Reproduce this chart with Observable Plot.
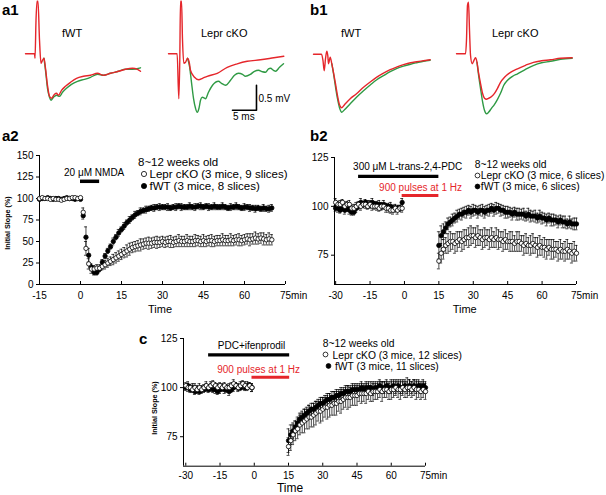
<!DOCTYPE html>
<html><head><meta charset="utf-8">
<script src="https://cdn.jsdelivr.net/npm/d3@7"></script>
<script src="https://cdn.jsdelivr.net/npm/@observablehq/plot@0.6"></script>
<style>
body{margin:0;background:#fff;}
#fig{position:relative;width:606px;height:495px;overflow:hidden;background:#fff;}
</style></head>
<body><div id="fig"></div>
<script>
// ---------------- DATA ----------------
// a1 / b1 field potential traces: [time (ms), voltage (mV)]
const a1FwtRed = [[0,0],[1.88,0],[1.98,-0.09],[2.19,0.67],[2.4,1.05],[2.6,1.05],[2.92,0.27],[3.23,-0.19],[3.54,-0.13],[3.85,-0.09],[4.17,-0.29],[4.58,-0.63],[5.0,-0.85],[5.42,-0.89],[6.04,-0.81],[6.46,-0.79],[6.88,-0.83],[7.5,-0.73],[8.33,-0.65],[9.38,-0.57],[10.63,-0.49],[12.08,-0.45],[13.54,-0.43],[15.0,-0.39],[16.25,-0.43],[17.71,-0.39],[19.38,-0.35],[20.83,-0.31],[22.29,-0.29],[23.33,-0.31],[23.96,-0.35]];
const a1FwtGreen = [[3.85,-0.09],[4.17,-0.33],[4.58,-0.69],[5.0,-0.87],[5.31,-0.93],[5.83,-0.87],[6.46,-0.83],[7.08,-0.85],[7.71,-0.77],[8.54,-0.69],[9.58,-0.61],[10.83,-0.55],[12.29,-0.51],[13.54,-0.47],[15.0,-0.41],[16.25,-0.43],[17.71,-0.39],[19.38,-0.35],[20.83,-0.31],[22.29,-0.31],[23.96,-0.28]];
const a1KoRed = [[0,0],[1.8,0],[2.15,-0.9],[2.35,-0.13],[2.5,1.05],[2.71,1.05],[2.92,0.27],[3.19,-0.19],[3.54,-0.17],[3.96,-0.09],[4.38,-0.2],[4.58,-0.33],[5.42,-0.47],[6.31,-0.52],[7.08,-0.49],[8.06,-0.45],[10.15,-0.39],[12.23,-0.27],[14.31,-0.2],[16.4,-0.15],[19.17,-0.12],[21.94,-0.08],[24.02,-0.05]];
const a1KoGreen = [[3.96,-0.09],[4.38,-0.25],[4.79,-0.57],[5.21,-0.89],[5.63,-1.09],[5.98,-1.17],[6.35,-1.09],[6.67,-0.93],[7.02,-0.87],[7.4,-0.88],[7.71,-0.9],[8.33,-0.77],[9.17,-0.63],[10.42,-0.55],[11.04,-0.59],[11.88,-0.63],[12.92,-0.53],[13.75,-0.43],[14.58,-0.39],[15.42,-0.41],[16.04,-0.45],[17.08,-0.41],[17.92,-0.35],[18.75,-0.33],[19.58,-0.36],[20.21,-0.37],[20.83,-0.30],[21.25,-0.29],[21.88,-0.33],[22.29,-0.35],[23.13,-0.27],[23.96,-0.2]];
const b1FwtRed = [[0,0],[1.67,0],[1.98,-0.13],[2.23,-0.33],[2.5,-0.09],[2.77,0.06],[2.98,-0.03],[3.13,-0.19],[3.48,-0.06],[3.81,-0.19],[4.17,-0.37],[4.58,-0.59],[5.0,-0.83],[5.42,-1.01],[5.9,-1.07],[6.46,-1.01],[7.65,-0.89],[8.96,-0.79],[10.42,-0.66],[11.88,-0.55],[13.19,-0.46],[14.58,-0.38],[15.98,-0.31],[17.29,-0.26],[18.75,-0.21],[20.21,-0.17],[21.52,-0.15],[22.92,-0.13],[24.31,-0.11]];
const b1FwtGreen = [[3.81,-0.19],[4.17,-0.39],[4.58,-0.65],[5.0,-0.89],[5.42,-1.07],[5.9,-1.16],[6.46,-1.11],[7.65,-0.99],[8.96,-0.86],[10.42,-0.73],[11.88,-0.61],[13.19,-0.51],[14.58,-0.43],[15.98,-0.35],[17.29,-0.29],[18.75,-0.24],[20.21,-0.20],[21.52,-0.17],[22.92,-0.14],[24.31,-0.12]];
const b1KoRed = [[0,0],[1.88,0],[2.08,0.27],[2.29,0.97],[2.5,1.03],[2.71,0.47],[2.92,-0.03],[3.27,-0.2],[3.65,-0.13],[3.96,-0.08],[4.27,-0.17],[4.58,-0.37],[5.0,-0.59],[5.42,-0.79],[5.83,-0.89],[6.25,-0.91],[6.67,-0.89],[7.08,-0.87],[7.92,-0.79],[8.54,-0.69],[9.17,-0.57],[10.0,-0.47],[11.25,-0.37],[12.71,-0.3],[14.38,-0.23],[16.04,-0.17],[17.71,-0.14],[19.58,-0.12],[21.67,-0.09],[24.1,-0.08]];
const b1KoGreen = [[4.27,-0.17],[4.58,-0.41],[5.0,-0.69],[5.42,-0.95],[5.83,-1.13],[6.25,-1.2],[6.67,-1.17],[7.29,-1.09],[7.92,-1.01],[8.54,-0.91],[9.17,-0.79],[9.85,-0.63],[10.63,-0.53],[11.67,-0.45],[12.71,-0.4],[14.38,-0.31],[16.1,-0.23],[17.71,-0.18],[19.58,-0.15],[21.67,-0.11],[24.1,-0.09]];
const scaleBar = {ms: 5, mV: 0.5};

// a2: NMDA, time -15..70 min
const a2Time = d3.range(-15, 71);
const a2KoMean = [100,101,100,100,99,100,99,99,98,99,100,100,101,101,100,101,
 84,42,24,18,18,19,19,21,23,25, 27,29,31,33,35,37,39,41,43,44, 45,46,47,48,48,48,49,49,49,50,
 49,50,50,49,50,51,50,50,51,50, 50,51,51,50,51,50,51,51,50,51, 51,52,51,51,52,51,52,52,51,52,
 53,52,53,54,53,54,53,52,53,52];
const a2KoErr = [1,1,1,1,1,1,1,1,1,1,1,1,1,1,1,1,
 5,8,6,5,4,4,4,4,5,5, 5,6,6,6,6,6,7,7,6,6, 6,7,6,6,7,6,6,7,6,6,
 6,6,7,6,6,7,6,6,7,6, 6,7,6,6,7,6,6,7,6,6, 6,7,6,6,7,6,6,7,6,6,
 6,7,6,7,6,6,7,6,7,6];
const a2WtMean = [99,100,100,101,100,99,100,100,99,100,101,100,100,99,100,99,
 80,55,34,20,14,14,18,26,33,39, 44,50,55,60,64,68,72,75,78,81, 83,85,86,87,88,89,89,90,90,90,
 90,90,89,90,90,91,90,90,90,91, 90,90,91,91,90,91,90,90,91,90, 90,91,90,89,90,90,91,90,89,90,
 90,89,89,88,89,88,89,88,88,89];
const a2WtErr = [1,1,1,1,1,1,1,1,1,1,1,1,1,1,1,1,
 4,12,8,4,3,3,3,3,3,3, 3,4,3,4,3,4,3,4,3,4, 3,4,3,4,3,3,4,3,4,3,
 3,4,3,3,4,3,4,3,3,4, 3,4,3,4,3,3,4,3,4,3, 3,4,3,3,4,3,4,3,3,4,
 3,4,3,4,3,3,4,3,4,4];
const a2Drug = {label: "20 μM NMDA", start: 0, end: 7};

// b2: L-trans-2,4-PDC + LFS
const b2Time = [...d3.range(-30, 0), ...d3.range(15, 76)];
const b2KoMean = [102,101,101,102,100,101,101,99,99,100,101,100,101,101,100,101,100,100,100,99,100,100,99,99,98,98,99,98,99,99,
 72,76,78,80,81,82,82,81,82,83, 82,83,84,84,85,85,84,85,84,83, 84,84,83,84,83,84,83,83,82,83,
 82,82,82,81,82,82,81,80,81,80, 80,81,80,79,80,79,79,78,79,78, 78,78,77,78,77,77,78,77,76,77, 76];
const b2KoErr = [2,1.5,2,1.5,2,1.5,2,1.5,2,2,1.5,2,1.5,2,1.5,2,2,1.5,2,1.5,2,1.5,2,2,1.5,2,1.5,2,1.5,2,
 4,5,5,4,5,5,4,5,5,4, 5,5,4,5,5,4,5,5,4,5, 5,4,5,5,4,5,5,4,5,5,
 4,5,5,4,5,5,4,5,5,4, 5,5,4,5,5,4,5,5,4,5, 5,4,5,5,4,5,5,4,5,5, 4];
const b2WtMean = [99,99,98,99,98,99,98,97,97,99,100,102,101,102,101,101,102,101,101,101,100,101,100,100,100,99,99,99,99,102,
 80,85,87,89,91,92,93,94,95,96, 96,97,97,98,97,98,98,97,98,98, 97,98,98,99,98,99,99,98,98,97,
 97,97,96,97,96,96,96,96,95,96, 95,95,95,94,95,94,94,93,94,93, 93,93,92,93,92,92,91,92,91,91, 91];
const b2WtErr = [1.5,2,1.5,1.5,2,1.5,2,1.5,1.5,2,1.5,2,1.5,1.5,2,1.5,2,1.5,1.5,2,1.5,2,1.5,1.5,2,1.5,2,1.5,1.5,2,
 7,5,4,3,3,2.5,3,2.5,3,2.5, 3,2.5,3,2.5,3,3,2.5,3,2.5,3, 3,2.5,3,2.5,3,3,2.5,3,2.5,3,
 3,2.5,3,2.5,3,3,2.5,3,2.5,3, 3,2.5,3,2.5,3,3,2.5,3,2.5,3, 3,2.5,3,2.5,3,3,2.5,3,2.5,3, 3];
const b2Drug = {label: "300 μM L-trans-2,4-PDC", start: -20, end: 15};
const b2Stim = {label: "900 pulses at 1 Hz", start: -1, end: 15};

// c: PDC + ifenprodil + LFS
const cTime = [...d3.range(-30, 0), ...d3.range(15, 76)];
const cKoMean = [101,100,100,99,100,99,100,99,100,101,100,101,102,101,100,101,100,101,100,100,101,102,101,100,101,102,101,100,101,100,
 70,73,76,78,79,81,82,83,84,85, 85,86,87,88,88,89,90,90,91,91, 92,92,93,93,94,95,95,95,96,96,
 96,97,97,97,97,98,97,98,98,98, 99,98,99,99,98,99,99,100,99,99, 100,99,100,100,99,100,99,99,98,99, 98];
const cKoErr = [1.5,2,1.5,1.5,2,1.5,2,1.5,1.5,2,1.5,2,1.5,1.5,2,1.5,2,1.5,1.5,2,1.5,2,1.5,1.5,2,1.5,2,1.5,1.5,2,
 4.5,5,5,5,5,5,5,6,5,6, 5,6,6,5,6,6,5,6,6,5, 6,6,5,6,5,5,6,5,5,5,
 5,4,5,4,5,4,4,5,4,4, 4,5,4,4,4,5,4,4,4,5, 4,4,5,4,4,4,5,4,4,4, 4];
const cWtMean = [100,101,99,100,98,99,98,99,99,100,99,100,99,99,98,99,100,99,99,98,99,100,101,100,100,101,100,101,101,100,
 73,76,78,80,82,84,85,86,87,88, 89,89,90,91,92,92,93,94,94,95, 95,96,96,97,97,98,98,98,99,99,
 99,99,100,99,100,100,100,99,100,100, 101,100,100,101,100,100,101,100,101,100, 100,101,100,101,100,101,100,101,100,101, 100];
const cWtErr = [1.5,2,1.5,2,1.5,2,1.5,2,1.5,2,1.5,2,1.5,2,1.5,2,1.5,2,1.5,2,1.5,2,1.5,2,1.5,2,1.5,2,1.5,2,
 6,5,4,3,3,3,3,3,3,3, 3,3,3,3,3,3,3,3,3,3, 3,3,3,3,3,3,3,3,3,3,
 3,3,3,3,3,3,3,3,3,3, 3,3,3,3,3,3,3,3,3,3, 3,3,3,3,3,3,3,3,3,3, 3];
const cDrug = {label: "PDC+ifenprodil", start: -20, end: 15.5};
const cStim = {label: "900 pulses at 1 Hz", start: -1, end: 15.5};

const legendA2 = ["8~12 weeks old", "Lepr cKO (3 mice, 9 slices)", "fWT (3 mice, 8 slices)"];
const legendB2 = ["8~12 weeks old", "Lepr cKO (3 mice, 6 slices)", "fWT (3 mice, 6 slices)"];
const legendC  = ["8~12 weeks old", "Lepr cKO (3 mice, 12 slices)", "fWT (3 mice, 11 slices)"];

// ---------------- RENDER ----------------
const FONT = '"Liberation Sans", Arial, Helvetica, sans-serif';
const W = 606, H = 495;
const RED = "#e5262b", GREEN = "#2f9a44";
const MS_PX = 4.8, MV_PX = 50;
const fig = document.getElementById("fig");

function put(svg) {
  svg.style.position = "absolute"; svg.style.left = "0px"; svg.style.top = "0px";
  svg.style.background = "transparent"; svg.style.overflow = "visible";
  fig.appendChild(svg);
}

function tracePlot(x0, y0, lines, extra = []) {
  return Plot.plot({
    width: W, height: H, margin: 0,
    style: {fontFamily: FONT, fontSize: "10px", background: "transparent"},
    x: {domain: [-x0 / MS_PX, (W - x0) / MS_PX], axis: null},
    y: {domain: [(y0 - H) / MV_PX, y0 / MV_PX], axis: null},
    marks: [
      ...lines.map(([d, c]) => Plot.line(d, {x: p => p[0], y: p => p[1], stroke: c, strokeWidth: 1.4, curve: "monotone-x"})),
      ...extra
    ]
  });
}

put(tracePlot(25, 53.3, [[a1FwtGreen, GREEN], [a1FwtRed, RED]]));
const sbCorner = [18.33, -1.13];
put(tracePlot(168, 53.3, [[a1KoGreen, GREEN], [a1KoRed, RED]], [
  Plot.line([[sbCorner[0] - scaleBar.ms, sbCorner[1]], sbCorner, [sbCorner[0], sbCorner[1] + scaleBar.mV]],
    {x: p => p[0], y: p => p[1], stroke: "black", strokeWidth: 1.6})
]));
put(tracePlot(313, 53.7, [[b1FwtGreen, GREEN], [b1FwtRed, RED]]));
put(tracePlot(456, 53.3, [[b1KoGreen, GREEN], [b1KoRed, RED]]));

function timePlot(cfg) {
  const {mL, mR, mT, mB, xDomain, yDomain, yTicks, xTicks, series, cap, pad, extras} = cfg;
  const x0 = xDomain[0], y0 = yDomain[0];
  const marks = [
    Plot.ruleX([x0], {stroke: "black", strokeWidth: 1}),
    Plot.ruleY([y0], {stroke: "black", strokeWidth: 1}),
    Plot.axisY(yTicks, {tickSize: 3, tickPadding: 3, label: null, tickFormat: d => String(d)}),
    Plot.axisX(xTicks, {tickSize: 3, dy: -3, tickFormat: () => "", label: null}),
    Plot.axisX(xTicks.filter(d => d !== 75), {tickSize: 0, tickPadding: pad, label: null, tickFormat: d => String(d)}),
    Plot.text([75], {x: d => d, y: y0, text: d => d + "min", textAnchor: "start", dx: -5.5, dy: pad, lineAnchor: "top"})
  ];
  for (const s of series) {
    const data = s.t.map((t, i) => ({t, m: s.mean[i], e: s.err[i]}));
    marks.push(Plot.ruleX(data, {x: "t", y1: d => d.m - d.e, y2: d => d.m + d.e, stroke: "black", strokeWidth: 0.7}));
    marks.push(Plot.ruleY(data, {y: d => d.m + d.e, x1: d => d.t - cap, x2: d => d.t + cap, stroke: "black", strokeWidth: 0.7}));
    marks.push(Plot.ruleY(data, {y: d => d.m - d.e, x1: d => d.t - cap, x2: d => d.t + cap, stroke: "black", strokeWidth: 0.7}));
    marks.push(Plot.dot(data, {x: "t", y: "m", r: 2.2, fill: s.fill, stroke: "black", strokeWidth: 0.8}));
  }
  return Plot.plot({
    width: W, height: H, marginLeft: mL, marginRight: mR, marginTop: mT, marginBottom: mB,
    style: {fontFamily: FONT, fontSize: "10px", background: "transparent"},
    x: {domain: xDomain}, y: {domain: yDomain},
    marks: [...marks, ...extras]
  });
}

// a2
put(timePlot({
  mL: 39, mR: W - 285, mT: 155, mB: H - 284,
  xDomain: [-15, 75], yDomain: [0, 150],
  yTicks: [0, 25, 50, 75, 100, 125, 150], xTicks: [-15, 0, 15, 30, 45, 60, 75],
  cap: 0.55, pad: 7,
  series: [
    {t: a2Time, mean: a2WtMean, err: a2WtErr, fill: "black"},
    {t: a2Time, mean: a2KoMean, err: a2KoErr, fill: "white"}
  ],
  extras: [
    Plot.ruleY([a2Drug], {y: 120, x1: "start", x2: "end", stroke: "black", strokeWidth: 3.5}),
    Plot.text([a2Drug], {x: 5, y: 129.5, text: "label", fontSize: 10})
  ]
}));

// b2
put(timePlot({
  mL: 334, mR: W - 576, mT: 157, mB: H - 284,
  xDomain: [-30.5, 75], yDomain: [60, 125],
  yTicks: [75, 100, 125], xTicks: [-30, -15, 0, 15, 30, 45, 60, 75],
  cap: 0.65, pad: 7,
  series: [
    {t: b2Time, mean: b2WtMean, err: b2WtErr, fill: "black"},
    {t: b2Time, mean: b2KoMean, err: b2KoErr, fill: "white"}
  ],
  extras: [
    Plot.ruleY([b2Drug], {y: 115.3, x1: "start", x2: "end", stroke: "black", strokeWidth: 3.3}),
    Plot.text([b2Drug], {x: 1.4, y: 120.4, text: "label", fontSize: 10}),
    Plot.ruleY([b2Stim], {y: 105.5, x1: "start", x2: "end", stroke: RED, strokeWidth: 3}),
    Plot.text([b2Stim], {x: 7, y: 109.6, text: "label", fill: RED, fontSize: 10})
  ]
}));

// c
put(timePlot({
  mL: 183, mR: W - 425, mT: 338, mB: H - 465.7,
  xDomain: [-31, 75], yDomain: [60, 125],
  yTicks: [75, 100, 125], xTicks: [-30, -15, 0, 15, 30, 45, 60, 75],
  cap: 0.65, pad: 6,
  series: [
    {t: cTime, mean: cWtMean, err: cWtErr, fill: "black"},
    {t: cTime, mean: cKoMean, err: cKoErr, fill: "white"}
  ],
  extras: [
    Plot.ruleY([cDrug], {y: 116.7, x1: "start", x2: "end", stroke: "black", strokeWidth: 3.3}),
    Plot.text([cDrug], {x: -1.2, y: 121.1, text: "label", fontSize: 10}),
    Plot.ruleY([cStim], {y: 105.3, x1: "start", x2: "end", stroke: RED, strokeWidth: 3}),
    Plot.text([cStim], {x: 1.9, y: 109.3, text: "label", fill: RED, fontSize: 10})
  ]
}));

// ---------------- TEXT OVERLAY ----------------
const ov = d3.create("svg").attr("width", W).attr("height", H)
  .style("position", "absolute").style("left", "0px").style("top", "0px")
  .style("font-family", FONT).style("overflow", "visible");
function txt(s, x, y, o = {}) {
  ov.append("text").attr("x", x).attr("y", y)
    .attr("font-size", o.size || 10).attr("font-weight", o.bold ? "bold" : null)
    .attr("fill", o.color || "#000").attr("text-anchor", o.anchor || "start")
    .attr("transform", o.rot ? `rotate(-90 ${x} ${y})` : null).text(s);
}
function mark(x, y, filled, r) {
  ov.append("circle").attr("cx", x).attr("cy", y).attr("r", r)
    .attr("fill", filled ? "#000" : "#fff").attr("stroke", "#000").attr("stroke-width", 0.8);
}
// panel letters
txt("a1", 2, 15, {size: 15, bold: true});
txt("b1", 310, 15, {size: 15, bold: true});
txt("a2", 2, 141, {size: 15, bold: true});
txt("b2", 310, 141, {size: 15, bold: true});
txt("c", 139, 344, {size: 15, bold: true});
// trace titles
txt("fWT", 62, 37, {size: 11});
txt("Lepr cKO", 201, 36.5, {size: 11});
txt("fWT", 341, 37, {size: 11});
txt("Lepr cKO", 492, 37, {size: 11});
txt(scaleBar.mV + " mV", 258.5, 102, {size: 10});
txt(scaleBar.ms + " ms", 233, 120, {size: 10});
// axis titles
txt("Initial Slope (%)", 10, 223, {size: 7.2, bold: true, rot: true, anchor: "middle"});
txt("Initial Slope (%)", 157, 408, {size: 7.2, bold: true, rot: true, anchor: "middle"});
txt("Time", 160, 313, {size: 11, anchor: "middle"});
txt("Time", 464.7, 313, {size: 11, anchor: "middle"});
txt("Time", 290, 492, {size: 12, anchor: "middle"});
// legends
txt(legendA2[0], 138, 166, {size: 11.5});
mark(144, 174, false, 2.6); txt(legendA2[1], 149.5, 178, {size: 11.5});
mark(144, 186, true, 2.6);  txt(legendA2[2], 149.5, 190, {size: 11.5});
txt(legendB2[0], 474.7, 168, {size: 10.3});
mark(477.5, 175.5, false, 2.4); txt(legendB2[1], 480.8, 179, {size: 10.3});
mark(477.5, 186.5, true, 2.4);  txt(legendB2[2], 480.8, 190, {size: 10.3});
txt(legendC[0], 322.7, 347, {size: 10.3});
mark(325.5, 354.5, false, 2.4); txt(legendC[1], 332.5, 358.5, {size: 10.3});
mark(328.5, 366, true, 2.4);    txt(legendC[2], 335, 370, {size: 10.3});
fig.appendChild(ov.node());
</script>
</body></html>
